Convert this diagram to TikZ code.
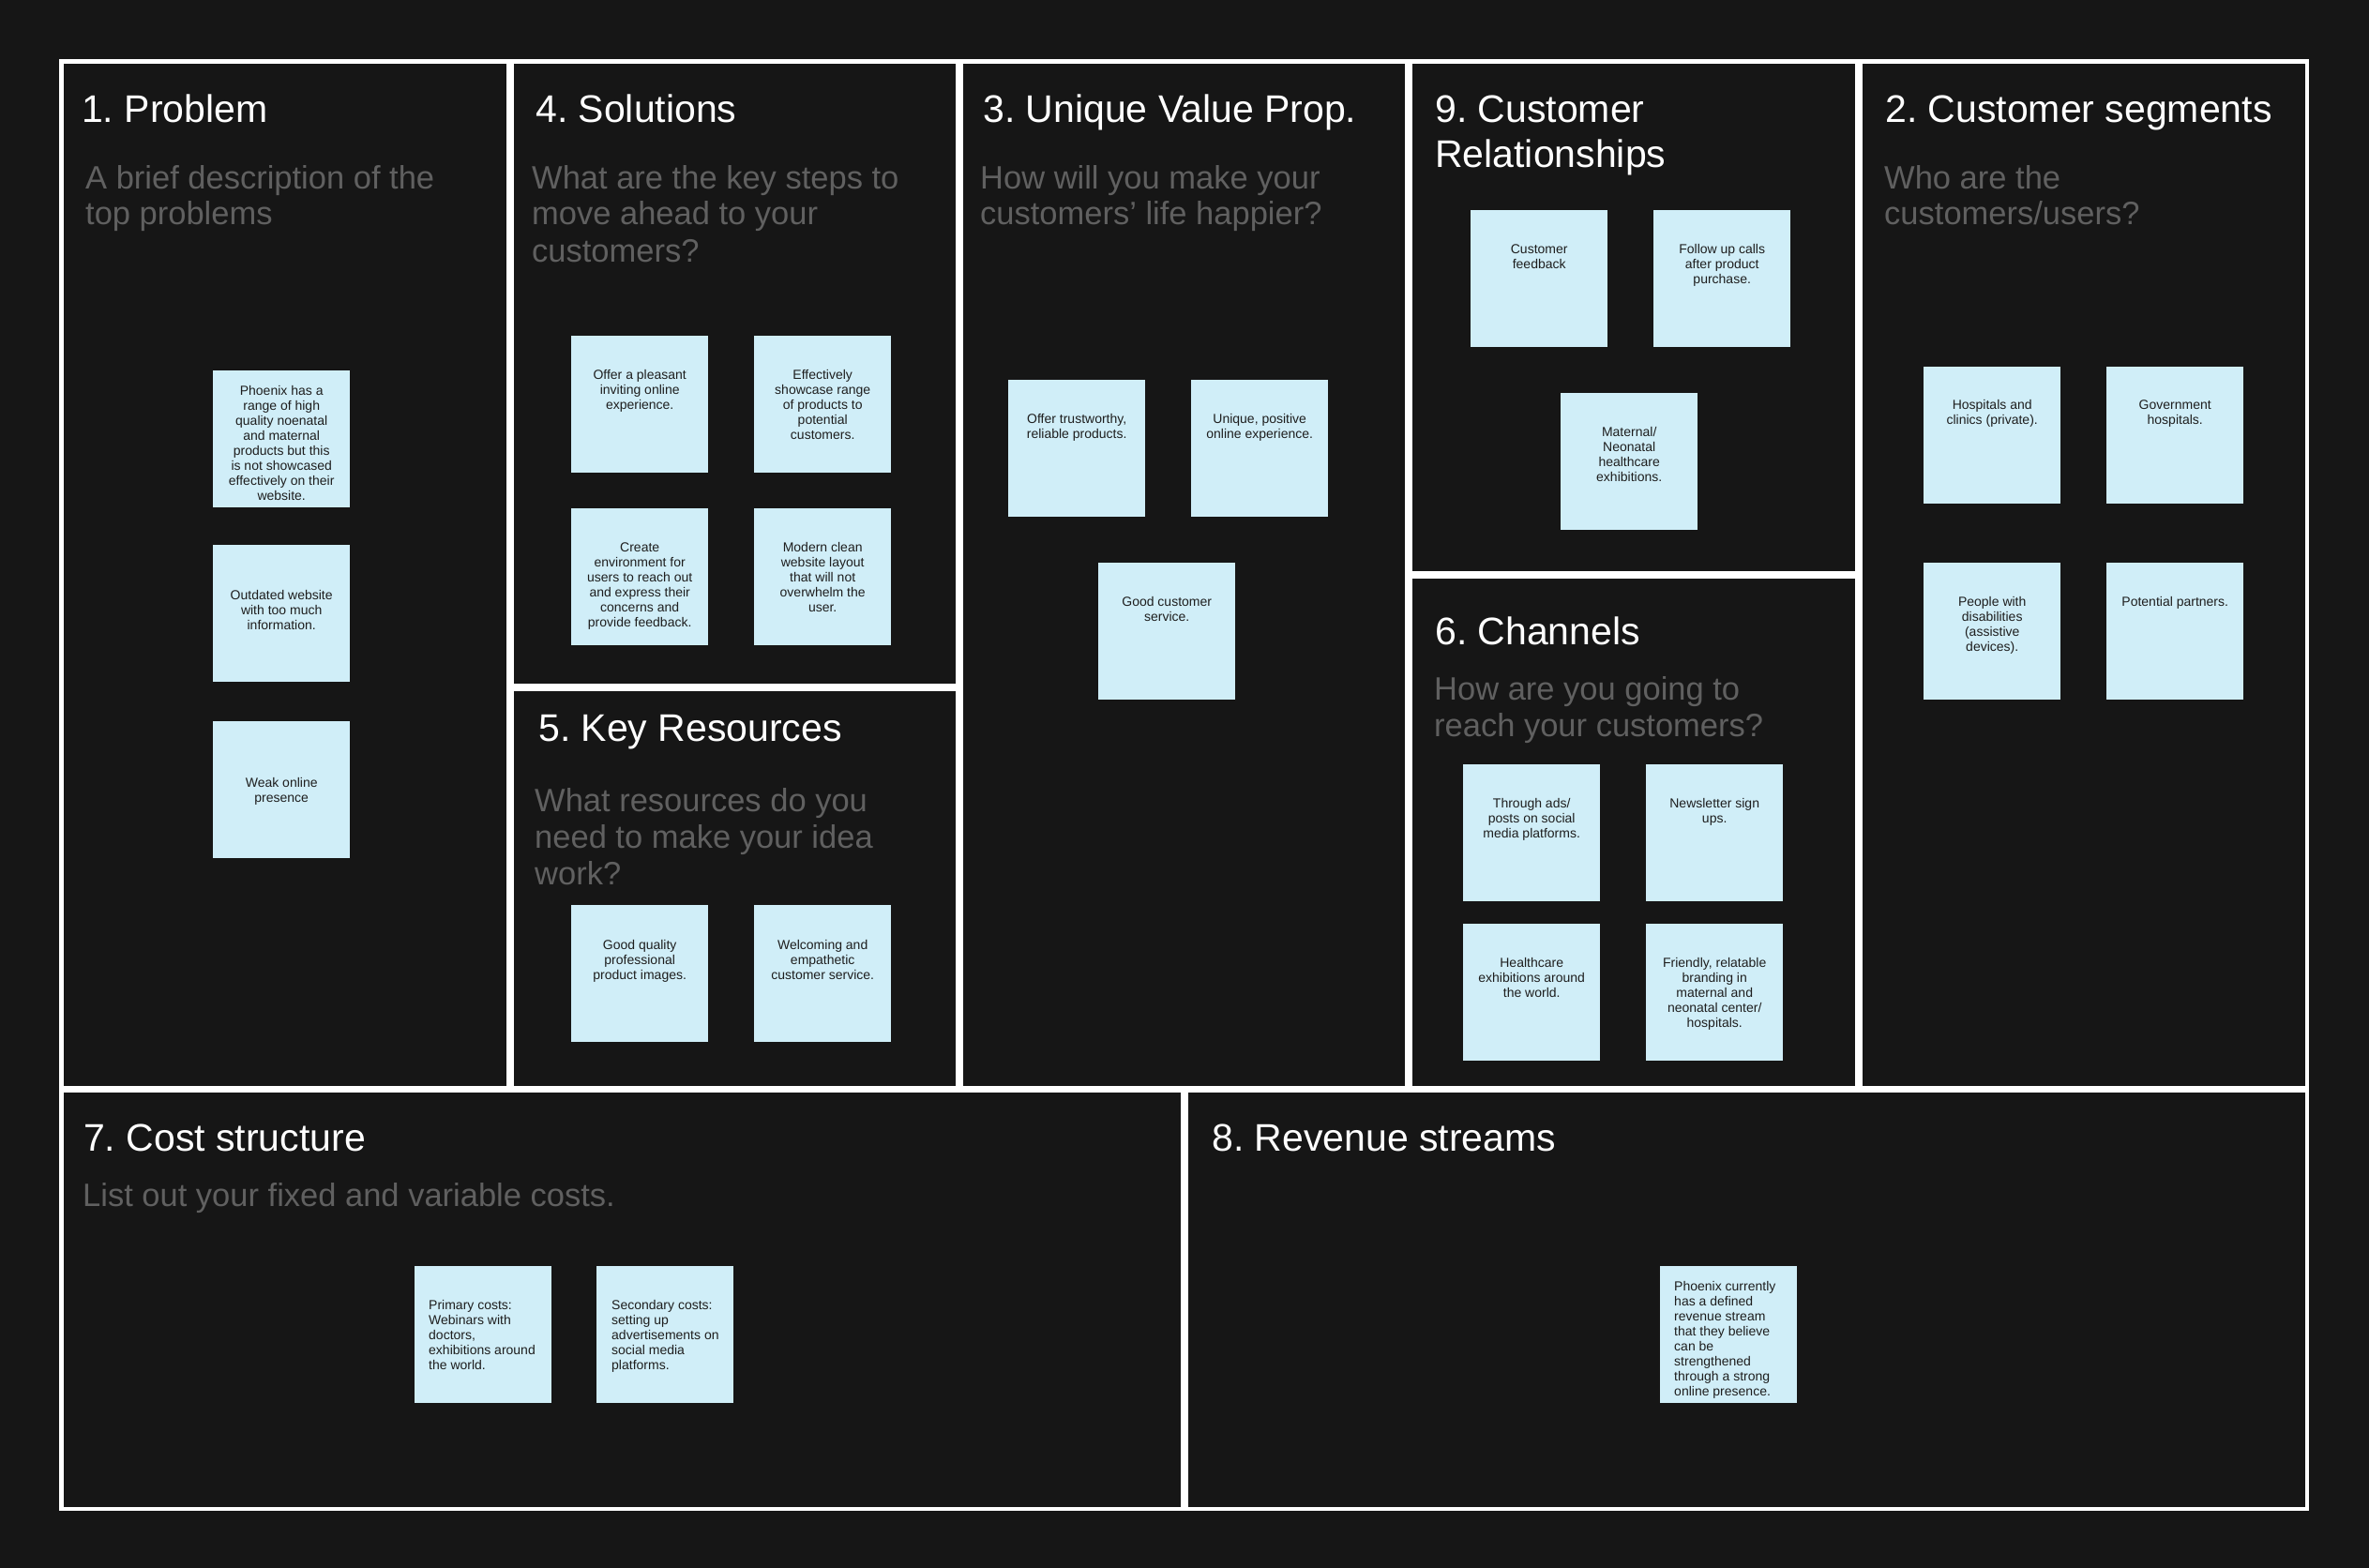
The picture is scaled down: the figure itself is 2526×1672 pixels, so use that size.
\documentclass[tikz,border=0pt]{standalone}
\usepackage{fontspec}
\setmainfont{Liberation Sans}
\definecolor{bg}{HTML}{161616}
\definecolor{subgray}{HTML}{606060}
\definecolor{stk}{HTML}{D0EEF8}
\definecolor{stktext}{HTML}{1E1E1E}
\newcommand{\mlines}[2][l]{\begin{tabular}[t]{@{}#1@{}}#2\end{tabular}}
\tikzset{
  cellfill/.style={fill=bg},
  sticky/.style={fill=stk, draw=none, minimum width=146pt, minimum height=146pt, inner sep=0pt, anchor=north west},
  titletext/.style={anchor=base west, inner sep=0pt, text=white, font=\fontsize{41}{48}\selectfont},
  subtext/.style={anchor=base west, inner sep=0pt, text=subgray, font=\fontsize{34.5}{39}\selectfont},
  notetext/.style={anchor=base, inner sep=0pt, text=stktext, font=\fontsize{14}{16}\selectfont},
  notetextl/.style={notetext, anchor=base west},
}
\begin{document}
\frenchspacing
\begin{tikzpicture}[x=1pt,y=-1pt]
\fill[bg] (0,0) rectangle (2526,1672);
\useasboundingbox (0,0) rectangle (2526,1672);
% frame
\fill[white] (63,63) rectangle (2462,1611);
\fill[cellfill] (68,68) rectangle (540,1158);     % problem
\fill[cellfill] (548,68) rectangle (1019,729);    % solutions
\fill[cellfill] (548,737) rectangle (1019,1158);  % key resources
\fill[cellfill] (1027,68) rectangle (1498,1158);  % uvp
\fill[cellfill] (1506,68) rectangle (1978,609);   % customer relationships
\fill[cellfill] (1506,617) rectangle (1978,1158); % channels
\fill[cellfill] (1986,68) rectangle (2458,1158);  % customer segments
\fill[cellfill] (68,1165) rectangle (1259,1607);  % cost
\fill[cellfill] (1267,1165) rectangle (2458,1607);% revenue

% titles
\node[titletext] (tprob) at (87,131) {1. Problem};
\node[titletext] (tsol) at (571,131) {4. Solutions};
\node[titletext] (tuvp) at (1048,131) {3. Unique Value Prop.};
\node[titletext] (tcr) at (1530,131) {\mlines{9. Customer\\Relationships}};
\node[titletext] (tcs) at (2010,131) {2. Customer segments};
\node[titletext] (tkr) at (574,790) {5. Key Resources};
\node[titletext] (tch) at (1530,687) {6. Channels};
\node[titletext] (tcost) at (89,1227) {7. Cost structure};
\node[titletext] (trev) at (1292,1227) {8. Revenue streams};

% subtitles
\node[subtext] (sprob) at (91,201) {\mlines{A brief description of the\\top problems}};
\node[subtext] (ssol) at (567,201) {\mlines{What are the key steps to\\move ahead to your\\customers?}};
\node[subtext] (suvp) at (1045,201) {\mlines{How will you make your\\customers’ life happier?}};
\node[subtext] (scs) at (2009,201) {\mlines{Who are the\\customers/users?}};
\node[subtext] (skr) at (570,865) {\mlines{What resources do you\\need to make your idea\\work?}};
\node[subtext] (sch) at (1529,746) {\mlines{How are you going to\\reach your customers?}};
\node[subtext] (scost) at (88,1286) {List out your fixed and variable costs.};

% problem stickies
\node[sticky] (p1) at (227,395) {};
\node[sticky] (p2) at (227,581) {};
\node[sticky] (p3) at (227,769) {};
\node[notetext] (p1t) at ([yshift=-26pt]p1.north) {\mlines[c]{Phoenix has a\\range of high\\quality noenatal\\and maternal\\products but this\\is not showcased\\effectively on their\\website.}};
\node[notetext] (p2t) at ([yshift=-58pt]p2.north) {\mlines[c]{Outdated website\\with too much\\information.}};
\node[notetext] (p3t) at ([yshift=-70pt]p3.north) {\mlines[c]{Weak online\\presence}};

% solutions stickies
\node[sticky] (s1) at (609,358) {};
\node[sticky] (s2) at (804,358) {};
\node[sticky] (s3) at (609,542) {};
\node[sticky] (s4) at (804,542) {};
\node[notetext] (s1t) at ([yshift=-46pt]s1.north) {\mlines[c]{Offer a pleasant\\inviting online\\experience.}};
\node[notetext] (s2t) at ([yshift=-46pt]s2.north) {\mlines[c]{Effectively\\showcase range\\of products to\\potential\\customers.}};
\node[notetext] (s3t) at ([yshift=-46pt]s3.north) {\mlines[c]{Create\\environment for\\users to reach out\\and express their\\concerns and\\provide feedback.}};
\node[notetext] (s4t) at ([yshift=-46pt]s4.north) {\mlines[c]{Modern clean\\website layout\\that will not\\overwhelm the\\user.}};

% key resources stickies
\node[sticky] (k1) at (609,965) {};
\node[sticky] (k2) at (804,965) {};
\node[notetext] (k1t) at ([yshift=-47pt]k1.north) {\mlines[c]{Good quality\\professional\\product images.}};
\node[notetext] (k2t) at ([yshift=-47pt]k2.north) {\mlines[c]{Welcoming and\\empathetic\\customer service.}};

% uvp stickies
\node[sticky] (u1) at (1075,405) {};
\node[sticky] (u2) at (1270,405) {};
\node[sticky] (u3) at (1171,600) {};
\node[notetext] (u1t) at ([yshift=-46pt]u1.north) {\mlines[c]{Offer trustworthy,\\reliable products.}};
\node[notetext] (u2t) at ([yshift=-46pt]u2.north) {\mlines[c]{Unique, positive\\online experience.}};
\node[notetext] (u3t) at ([yshift=-46pt]u3.north) {\mlines[c]{Good customer\\service.}};

% customer relationships stickies
\node[sticky] (r1) at (1568,224) {};
\node[sticky] (r2) at (1763,224) {};
\node[sticky] (r3) at (1664,419) {};
\node[notetext] (r1t) at ([yshift=-46pt]r1.north) {\mlines[c]{Customer\\feedback}};
\node[notetext] (r2t) at ([yshift=-46pt]r2.north) {\mlines[c]{Follow up calls\\after product\\purchase.}};
\node[notetext] (r3t) at ([yshift=-46pt]r3.north) {\mlines[c]{Maternal/\\Neonatal\\healthcare\\exhibitions.}};

% channels stickies
\node[sticky] (c1) at (1560,815) {};
\node[sticky] (c2) at (1755,815) {};
\node[sticky] (c3) at (1560,985) {};
\node[sticky] (c4) at (1755,985) {};
\node[notetext] (c1t) at ([yshift=-46pt]c1.north) {\mlines[c]{Through ads/\\posts on social\\media platforms.}};
\node[notetext] (c2t) at ([yshift=-46pt]c2.north) {\mlines[c]{Newsletter sign\\ups.}};
\node[notetext] (c3t) at ([yshift=-46pt]c3.north) {\mlines[c]{Healthcare\\exhibitions around\\the world.}};
\node[notetext] (c4t) at ([yshift=-46pt]c4.north) {\mlines[c]{Friendly, relatable\\branding in\\maternal and\\neonatal center/\\hospitals.}};

% customer segments stickies
\node[sticky] (g1) at (2051,391) {};
\node[sticky] (g2) at (2246,391) {};
\node[sticky] (g3) at (2051,600) {};
\node[sticky] (g4) at (2246,600) {};
\node[notetext] (g1t) at ([yshift=-45pt]g1.north) {\mlines[c]{Hospitals and\\clinics (private).}};
\node[notetext] (g2t) at ([yshift=-45pt]g2.north) {\mlines[c]{Government\\hospitals.}};
\node[notetext] (g3t) at ([yshift=-46pt]g3.north) {\mlines[c]{People with\\disabilities\\(assistive\\devices).}};
\node[notetext] (g4t) at ([yshift=-46pt]g4.north) {\mlines[c]{Potential partners.}};

% cost stickies
\node[sticky] (x1) at (442,1350) {};
\node[sticky] (x2) at (636,1350) {};
\node[notetextl] (x1t) at ([xshift=15pt,yshift=-46pt]x1.north west) {\mlines{Primary costs:\\Webinars with\\doctors,\\exhibitions around\\the world.}};
\node[notetextl] (x2t) at ([xshift=16pt,yshift=-46pt]x2.north west) {\mlines{Secondary costs:\\setting up\\advertisements on\\social media\\platforms.}};

% revenue sticky
\node[sticky] (v1) at (1770,1350) {};
\node[notetextl] (v1t) at ([xshift=15pt,yshift=-26pt]v1.north west) {\mlines{Phoenix currently\\has a defined\\revenue stream\\that they believe\\can be\\strengthened\\through a strong\\online presence.}};
\end{tikzpicture}
\end{document}
